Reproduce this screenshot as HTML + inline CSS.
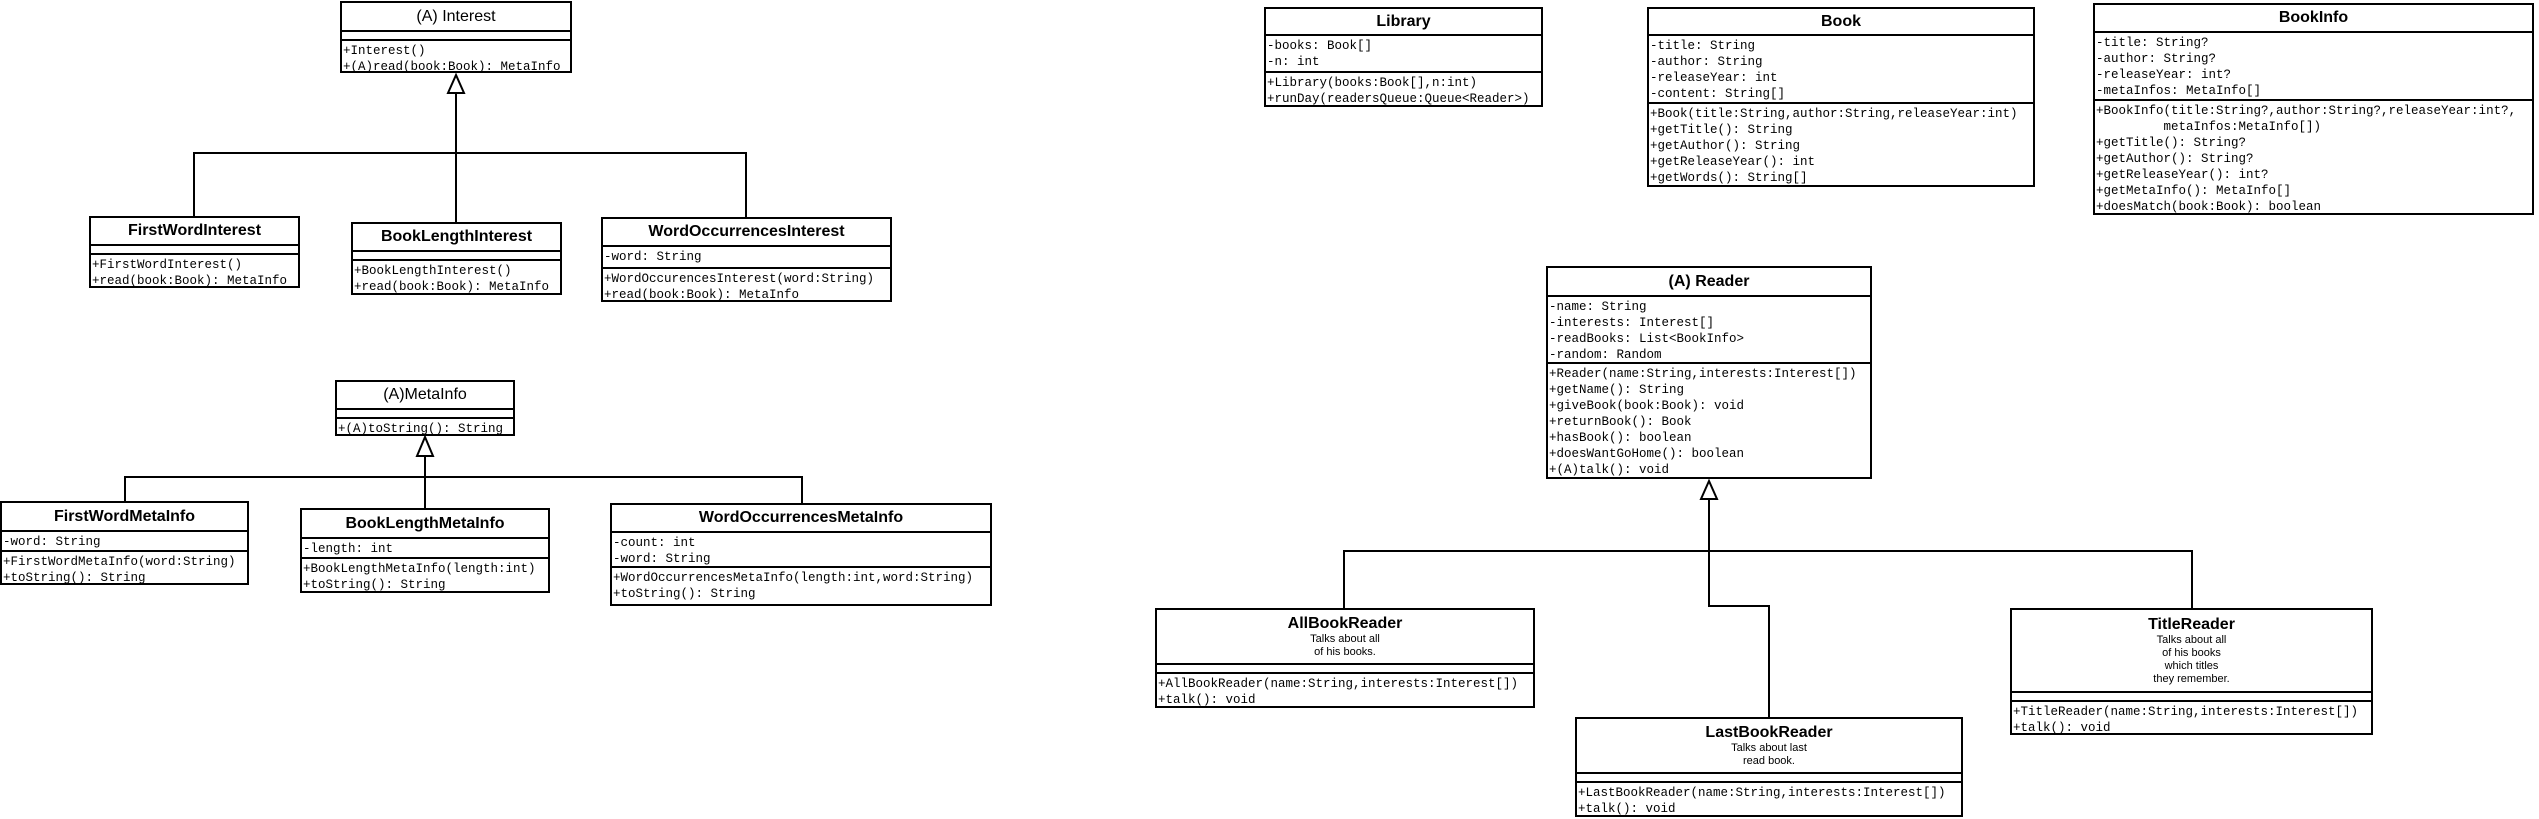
<!DOCTYPE html>
<html><head><meta charset="utf-8"><style>
*{margin:0;padding:0;box-sizing:border-box}
body{width:2539px;height:819px;background:#fff;position:relative;overflow:hidden}
.b{position:absolute;border:2px solid #000;background:#fff;display:flex;flex-direction:column}
.h{font:bold 16px "Liberation Sans",sans-serif;text-align:center;flex:none;display:flex;flex-direction:column;justify-content:center}
.h.n{font-weight:normal}
.d{font:11px/13px "Liberation Sans",sans-serif;font-weight:normal}
.s{border-top:2px solid #000;font:12.5px/16px "Liberation Mono",monospace;padding:2px 0 0 1px;white-space:pre;flex:none}
.s.l{flex:1}
svg{position:absolute;left:0;top:0}
</style></head><body>
<svg width="2539" height="819" fill="none" stroke="#000" stroke-width="2">
<path d="M456 93V153M194 216V153H746V217M456 153V222"/>
<polygon points="456,75 448,93 464,93" fill="#fff"/>
<path d="M425 456V477M125 501V477H802V503M425 477V508"/>
<polygon points="425,437 417,456 433,456" fill="#fff"/>
<path d="M1709 499V551M1344 608V551H2192V608M1709 551V606H1769V717"/>
<polygon points="1709,481 1701,499 1717,499" fill="#fff"/>
</svg>

<div class="b" style="left:340px;top:1px;width:232px;height:72px"><div class="h n" style="height:27px">(A) Interest</div><div class="s" style="height:9px"></div><div class="s l">+Interest()
+(A)read(book:Book): MetaInfo</div></div>

<div class="b" style="left:89px;top:216px;width:211px;height:72px"><div class="h" style="height:26px">FirstWordInterest</div><div class="s" style="height:9px"></div><div class="s l">+FirstWordInterest()
+read(book:Book): MetaInfo</div></div>

<div class="b" style="left:351px;top:222px;width:211px;height:73px"><div class="h" style="height:26px">BookLengthInterest</div><div class="s" style="height:9px"></div><div class="s l">+BookLengthInterest()
+read(book:Book): MetaInfo</div></div>

<div class="b" style="left:601px;top:217px;width:291px;height:85px"><div class="h" style="height:26px">WordOccurrencesInterest</div><div class="s" style="height:22px">-word: String</div><div class="s l">+WordOccurencesInterest(word:String)
+read(book:Book): MetaInfo</div></div>

<div class="b" style="left:335px;top:380px;width:180px;height:56px"><div class="h n" style="height:26px">(A)MetaInfo</div><div class="s" style="height:9px"></div><div class="s l">+(A)toString(): String</div></div>

<div class="b" style="left:0px;top:501px;width:249px;height:84px"><div class="h" style="height:27px">FirstWordMetaInfo</div><div class="s" style="height:20px">-word: String</div><div class="s l">+FirstWordMetaInfo(word:String)
+toString(): String</div></div>

<div class="b" style="left:300px;top:508px;width:250px;height:85px"><div class="h" style="height:27px">BookLengthMetaInfo</div><div class="s" style="height:20px">-length: int</div><div class="s l">+BookLengthMetaInfo(length:int)
+toString(): String</div></div>

<div class="b" style="left:610px;top:503px;width:382px;height:103px"><div class="h" style="height:26px">WordOccurrencesMetaInfo</div><div class="s" style="height:35px">-count: int
-word: String</div><div class="s l">+WordOccurrencesMetaInfo(length:int,word:String)
+toString(): String</div></div>

<div class="b" style="left:1264px;top:7px;width:279px;height:100px"><div class="h" style="height:25px">Library</div><div class="s" style="height:37px">-books: Book[]
-n: int</div><div class="s l">+Library(books:Book[],n:int)
+runDay(readersQueue:Queue&lt;Reader&gt;)</div></div>

<div class="b" style="left:1647px;top:7px;width:388px;height:180px"><div class="h" style="height:25px">Book</div><div class="s" style="height:68px">-title: String
-author: String
-releaseYear: int
-content: String[]</div><div class="s l">+Book(title:String,author:String,releaseYear:int)
+getTitle(): String
+getAuthor(): String
+getReleaseYear(): int
+getWords(): String[]</div></div>

<div class="b" style="left:2093px;top:3px;width:441px;height:212px"><div class="h" style="height:26px">BookInfo</div><div class="s" style="height:68px">-title: String?
-author: String?
-releaseYear: int?
-metaInfos: MetaInfo[]</div><div class="s l">+BookInfo(title:String?,author:String?,releaseYear:int?,
         metaInfos:MetaInfo[])
+getTitle(): String?
+getAuthor(): String?
+getReleaseYear(): int?
+getMetaInfo(): MetaInfo[]
+doesMatch(book:Book): boolean</div></div>

<div class="b" style="left:1546px;top:266px;width:326px;height:213px"><div class="h" style="height:27px">(A) Reader</div><div class="s" style="height:67px">-name: String
-interests: Interest[]
-readBooks: List&lt;BookInfo&gt;
-random: Random</div><div class="s l">+Reader(name:String,interests:Interest[])
+getName(): String
+giveBook(book:Book): void
+returnBook(): Book
+hasBook(): boolean
+doesWantGoHome(): boolean
+(A)talk(): void</div></div>

<div class="b" style="left:1155px;top:608px;width:380px;height:100px"><div class="h" style="height:53px"><div>AllBookReader</div><div class="d">Talks about all<br>of his books.</div></div><div class="s" style="height:9px"></div><div class="s l">+AllBookReader(name:String,interests:Interest[])
+talk(): void</div></div>

<div class="b" style="left:1575px;top:717px;width:388px;height:100px"><div class="h" style="height:53px"><div>LastBookReader</div><div class="d">Talks about last<br>read book.</div></div><div class="s" style="height:9px"></div><div class="s l">+LastBookReader(name:String,interests:Interest[])
+talk(): void</div></div>

<div class="b" style="left:2010px;top:608px;width:363px;height:127px"><div class="h" style="height:81px"><div>TitleReader</div><div class="d">Talks about all<br>of his books<br>which titles<br>they remember.</div></div><div class="s" style="height:9px"></div><div class="s l">+TitleReader(name:String,interests:Interest[])
+talk(): void</div></div>
</body></html>
